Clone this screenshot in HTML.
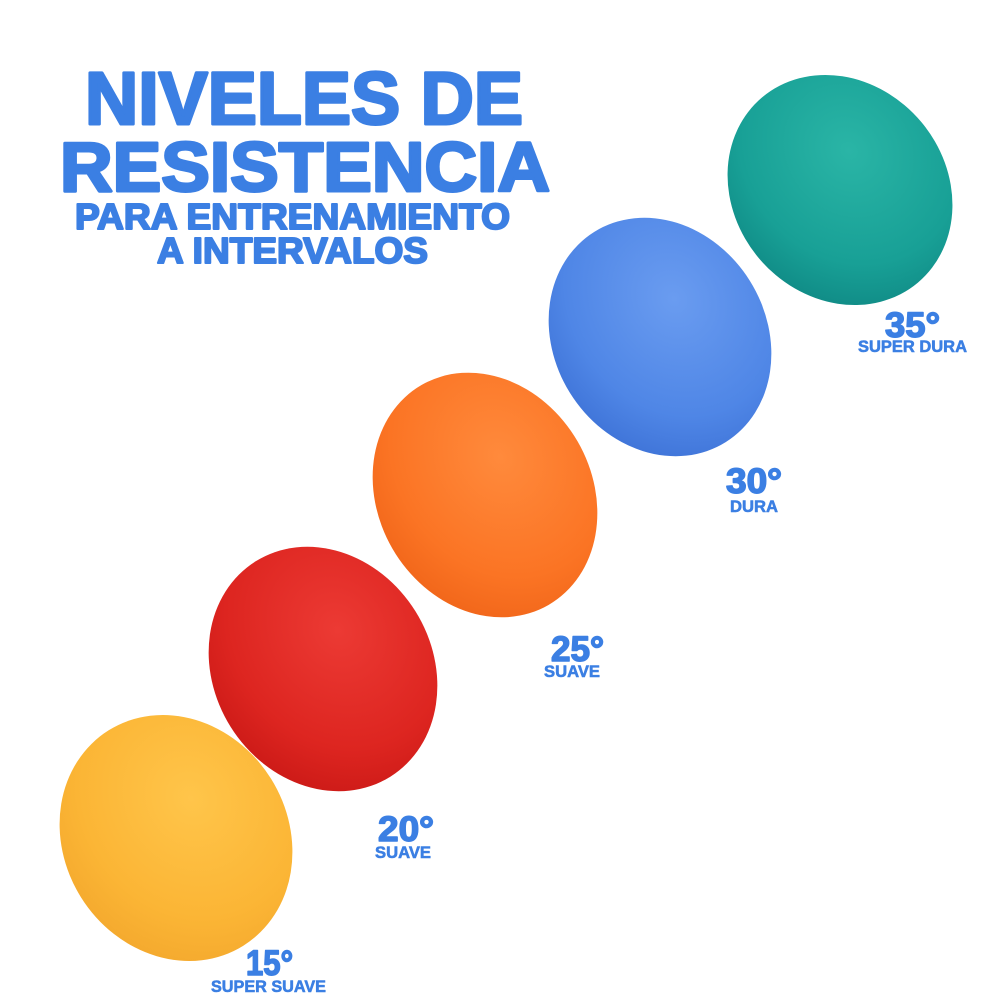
<!DOCTYPE html>
<html><head><meta charset="utf-8"><style>
html,body{margin:0;padding:0;background:#fff;width:1000px;height:1000px;overflow:hidden}
svg text{font-family:"Liberation Sans","DejaVu Sans",sans-serif;font-weight:bold;fill:#3b7fe3;stroke:#3b7fe3;stroke-linejoin:round}
</style></head><body>
<svg width="1000" height="1000" viewBox="0 0 1000 1000" xmlns="http://www.w3.org/2000/svg">
<defs>
<radialGradient id="gt" cx="40%" cy="35%" r="70%"><stop offset="0" stop-color="#2ab5a6"/><stop offset="0.7" stop-color="#18a096"/><stop offset="1" stop-color="#108b86"/></radialGradient>
<radialGradient id="gb" cx="40%" cy="35%" r="70%"><stop offset="0" stop-color="#6a9cf0"/><stop offset="0.7" stop-color="#4f86e6"/><stop offset="1" stop-color="#3f74d8"/></radialGradient>
<radialGradient id="go" cx="40%" cy="35%" r="70%"><stop offset="0" stop-color="#ff8a3c"/><stop offset="0.7" stop-color="#fb7424"/><stop offset="1" stop-color="#f1661a"/></radialGradient>
<radialGradient id="gr" cx="40%" cy="35%" r="70%"><stop offset="0" stop-color="#ec3a34"/><stop offset="0.7" stop-color="#dd2520"/><stop offset="1" stop-color="#cc1a17"/></radialGradient>
<radialGradient id="gy" cx="40%" cy="35%" r="70%"><stop offset="0" stop-color="#ffc54a"/><stop offset="0.7" stop-color="#fbb535"/><stop offset="1" stop-color="#f4a92e"/></radialGradient>
</defs>
<ellipse cx="840" cy="190" rx="121" ry="106" transform="rotate(50 840 190)" fill="url(#gt)"/>
<ellipse cx="660" cy="337" rx="124" ry="106" transform="rotate(58 660 337)" fill="url(#gb)"/>
<ellipse cx="485" cy="495" rx="127" ry="107" transform="rotate(60 485 495)" fill="url(#go)"/>
<ellipse cx="323" cy="669" rx="127" ry="109" transform="rotate(58 323 669)" fill="url(#gr)"/>
<ellipse cx="176" cy="838" rx="127" ry="112" transform="rotate(58 176 838)" fill="url(#gy)"/>

<text x="85" y="124" font-size="74" stroke-width="3" textLength="438" lengthAdjust="spacingAndGlyphs">NIVELES DE</text>
<text x="60" y="191" font-size="70" stroke-width="3" textLength="490" lengthAdjust="spacingAndGlyphs">RESISTENCIA</text>
<text x="75" y="229" font-size="36" stroke-width="2" textLength="435" lengthAdjust="spacingAndGlyphs">PARA ENTRENAMIENTO</text>
<text x="157" y="263" font-size="36" stroke-width="2" textLength="271" lengthAdjust="spacingAndGlyphs">A INTERVALOS</text>

<text x="885" y="337" font-size="35" stroke-width="1.5" textLength="55" lengthAdjust="spacingAndGlyphs">35°</text>
<text x="858" y="352" font-size="17" stroke-width="0.6" textLength="109" lengthAdjust="spacingAndGlyphs">SUPER DURA</text>
<text x="726" y="493" font-size="35" stroke-width="1.5" textLength="56" lengthAdjust="spacingAndGlyphs">30°</text>
<text x="730" y="512" font-size="17" stroke-width="0.6" textLength="48" lengthAdjust="spacingAndGlyphs">DURA</text>
<text x="551" y="661" font-size="35" stroke-width="1.5" textLength="53" lengthAdjust="spacingAndGlyphs">25°</text>
<text x="544" y="677" font-size="17" stroke-width="0.6" textLength="56" lengthAdjust="spacingAndGlyphs">SUAVE</text>
<text x="378" y="841" font-size="35" stroke-width="1.5" textLength="56" lengthAdjust="spacingAndGlyphs">20°</text>
<text x="375" y="858" font-size="17" stroke-width="0.6" textLength="56" lengthAdjust="spacingAndGlyphs">SUAVE</text>
<text x="246" y="975" font-size="35" stroke-width="1.5" textLength="47" lengthAdjust="spacingAndGlyphs">15°</text>
<text x="211" y="992" font-size="17" stroke-width="0.6" textLength="115" lengthAdjust="spacingAndGlyphs">SUPER SUAVE</text>
</svg>
</body></html>
